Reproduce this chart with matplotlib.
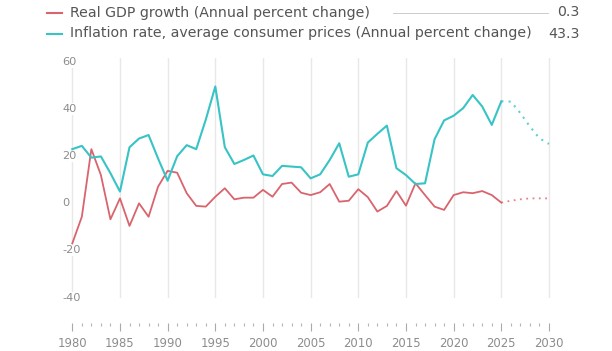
import matplotlib.pyplot as plt

plt.rcParams['font.family'] = ['DejaVu Sans']

# data
years = list(range(1980, 2026))
gdp = [-17, -5.7, 23, 12, -6.8, 2.1, -9.6, 0, -5.7, 7.1,
       13.8, 13, 4.3, -1.1, -1.4, 2.8, 6.4, 1.7, 2.4, 2.4,
       5.7, 2.8, 8.2, 8.8, 4.5, 3.5, 4.7, 8.2, 0.7, 1.1,
       6, 2.6, -3.5, -1.1, 5.2, -1, 8.5, 3.5, -1.4, -2.8,
       3.5, 4.7, 4.3, 5.2, 3.5, 0.3]
inflation = [23, 24.4, 19.4, 19.9, 12.8, 5, 23.8, 27.5, 29, 19,
             9.6, 20, 24.7, 23, 35.5, 49.6, 23.8, 16.7, 18.4, 20.3,
             12.3, 11.6, 15.9, 15.6, 15.3, 10.6, 12.3, 18.4, 25.5, 11.3,
             12.3, 25.8, 29.5, 33, 14.9, 12, 8.2, 8.5, 27.2, 35.2,
             37.2, 40.4, 46, 41.1, 33.3, 43.3]
proj_years = [2025, 2026, 2027, 2028, 2029, 2030]
gdp_proj = [0.3, 1.1, 1.7, 2.1, 2.1, 2.1]
inflation_proj = [43.3, 43.2, 38.3, 32.6, 27.6, 25.2]

legend_labels = ['Real GDP growth (Annual percent change)',
                 'Inflation rate, average consumer prices (Annual percent change)']
legend_values = ['0.3', '43.3']

red = '#d9646d'
cyan = '#38c3c5'
grey_text = '#8c8c8c'

W, H = 612, 351
fig = plt.figure(figsize=(W / 100, H / 100), dpi=100)


def fx(px):
    return px / W


def fy(py):
    return 1 - py / H


# axes placed so 1980 sits at x=72 and 60/-40 at y=62/297
x0, x1 = 1978.5, 2031
y0, y1 = -40.2, 61.7
left_px, right_px = 58.0, 558.5
top_px, bot_px = 58.0, 298.0
ax = fig.add_axes([fx(left_px), fy(bot_px), fx(right_px - left_px), (bot_px - top_px) / H])
ax.set_xlim(x0, x1)
ax.set_ylim(y0, y1)

for yr in range(1980, 2031, 5):
    ax.axvline(yr, color='#e8e8e8', lw=1, zorder=0)

ax.plot(years, gdp, color=red, lw=1.3, zorder=3)
ax.plot(years, inflation, color=cyan, lw=1.5, zorder=3)
ax.plot(proj_years, gdp_proj, color=red, lw=1.3, ls=(0, (1, 2.5)), alpha=0.8, zorder=3)
ax.plot(proj_years, inflation_proj, color=cyan, lw=1.5, ls=(0, (1, 2.5)), alpha=0.8, zorder=3)

for s in ax.spines.values():
    s.set_visible(False)
ax.spines['bottom'].set_position(('outward', 18))

ax.set_yticks([])
for v in range(-40, 61, 20):
    ax.text(x0 + (62 - left_px) / 9.53, v, str(v), ha='left', va='center',
            fontsize=8.2, color=grey_text, zorder=4,
            bbox=dict(facecolor='white', edgecolor='none', pad=0.5))

ax.set_xticks(range(1980, 2031, 5))
ax.set_xticks([y for y in range(1981, 2030) if y % 5], minor=True)
ax.tick_params(axis='x', which='major', length=6, width=0.8, color='#aaaaaa',
               labelsize=8.4, labelcolor=grey_text, pad=4)
ax.tick_params(axis='x', which='minor', length=1.8, width=0.8, color='#b5b5b5')

# legend rows at the top
rows_y = [12.5, 33.5]
for y, col, lab, val in zip(rows_y, [red, cyan], legend_labels, legend_values):
    fig.add_artist(plt.Line2D([fx(47), fx(62)], [fy(y), fy(y)], color=col, lw=1.5))
    fig.text(fx(70), fy(y), lab, ha='left', va='center', fontsize=10.2, color='#555555')
    fig.text(fx(580), fy(y), val, ha='right', va='center', fontsize=10.2, color='#555555')
fig.add_artist(plt.Line2D([fx(393), fx(548)], [fy(12.5), fy(12.5)], color='#cccccc', lw=0.7))

fig.savefig('out.png', dpi=100, facecolor='white')
